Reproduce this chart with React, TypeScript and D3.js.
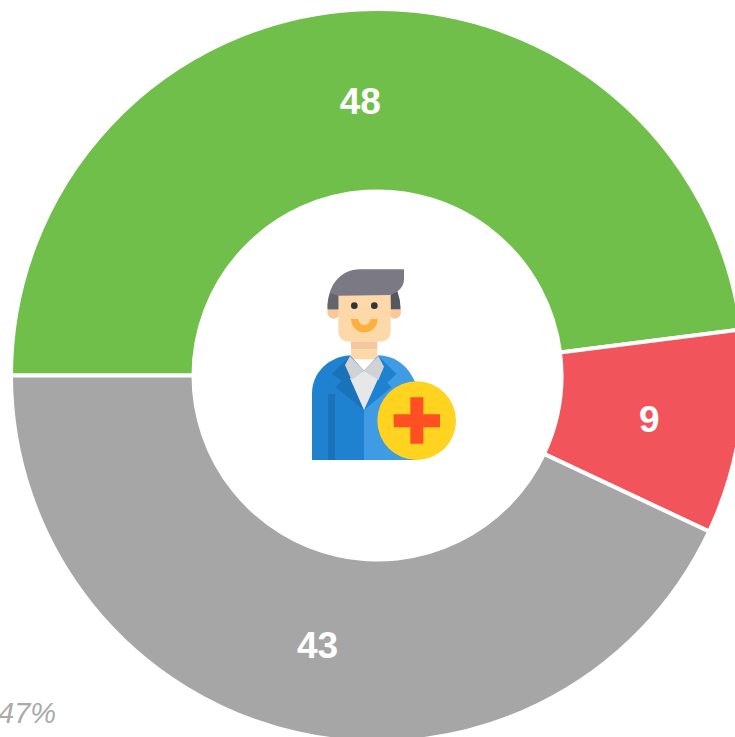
import React from "react";
import * as d3 from "d3";

const categories = ["green", "red", "grey"];
const values = [48, 9, 43];
const colors = ["#70bf4b", "#f2545b", "#a6a6a6"];
const footnote = "47%";

const width = 735;
const height = 737;
const cx = 377.5;
const cy = 375.5;
const innerRadius = 184;
const outerRadius = 366.5;

const color = d3.scaleOrdinal<string, string>().domain(categories).range(colors);

const pie = d3
  .pie<number>()
  .sort(null)
  .startAngle(-Math.PI / 2)
  .endAngle((3 * Math.PI) / 2);

const arc = d3
  .arc<d3.PieArcDatum<number>>()
  .innerRadius(innerRadius)
  .outerRadius(outerRadius);

// doctor icon, drawn in a 3x grid and scaled down
function Icon() {
  return (
    <g transform="translate(290,250) scale(0.3333)">
      <circle cx="131" cy="187" r="19" fill="#f8c99a" />
      <circle cx="314" cy="187" r="19" fill="#f8c99a" />
      <path d="M300 135 L322 122 Q332 150 332 178 L302 178 Z" fill="#55565e" />
      <path d="M145 125 H302 V240 Q302 275 267 275 H180 Q145 275 145 240 Z" fill="#fdd8a8" />
      <path d="M113 178 C110 110 150 58 210 58 H342 V88 C342 110 325 128 300 135 L145 137 V178 Z" fill="#7a7984" />
      <path d="M113 178 C112 160 115 145 122 130 L145 137 V178 Z" fill="#64646c" />
      <circle cx="193" cy="167" r="10" fill="#33333b" />
      <circle cx="253" cy="167" r="10" fill="#33333b" />
      <path d="M183 207 H205 A18 18 0 0 0 241 207 H263 A40 40 0 0 1 183 207 Z" fill="#fbb040" />
      <rect x="183" y="275" width="79" height="23" fill="#f4c9a0" />
      <rect x="183" y="298" width="79" height="30" fill="#fdd8a8" />
      <path d="M66 630 V430 C66 370 115 320 180 316 L222 362 V630 Z" fill="#1e82d0" />
      <path d="M222 630 V362 L265 316 C320 320 350 345 375 395 V630 Z" fill="#3f9be3" />
      <rect x="114" y="432" width="21" height="198" fill="#1a73b8" />
      <path d="M180 318 L125 372 L155 392 L137 412 L222 480 Z" fill="#1a73b8" />
      <path d="M265 318 L320 372 L292 398 L305 412 L222 480 Z" fill="#1e82d0" />
      <path d="M180 385 L222 362 L265 385 L222 480 Z" fill="#e6e7e9" />
      <path d="M180 318 L222 362 L265 318 L282 350 L265 390 L222 362 L185 390 L165 345 Z" fill="#d1d2d4" />
      <circle cx="380" cy="512" r="118" fill="#ffd31f" />
      <path d="M361 442 H400 V493 H450 V532 H400 V581 H361 V532 H311 V493 H361 Z" fill="#ff5023" />
    </g>
  );
}

export default function App() {
  const slices = pie(values);

  return (
    <svg
      width={width}
      height={height}
      style={{ position: "absolute", left: 0, top: 0, display: "block" }}
    >
      <g transform={`translate(${cx},${cy})`}>
        {slices.map((d, i) => (
          <path
            key={categories[i]}
            d={arc(d) as string}
            fill={color(categories[i])}
            stroke="#fff"
            strokeWidth={4}
          />
        ))}
        {slices.map((d, i) => {
          const [x, y] = arc.centroid(d);
          return (
            <text
              key={categories[i]}
              x={x}
              y={y}
              dy="0.37em"
              textAnchor="middle"
              fill="#fff"
              fontFamily="Liberation Sans, Arial, sans-serif"
              fontWeight="bold"
              fontSize={37}
            >
              {d.data}
            </text>
          );
        })}
      </g>
      <Icon />
      <text
        x={-2}
        y={723}
        fill="#aaa"
        fontFamily="Liberation Sans, Arial, sans-serif"
        fontStyle="italic"
        fontSize={29}
      >
        {footnote}
      </text>
    </svg>
  );
}
